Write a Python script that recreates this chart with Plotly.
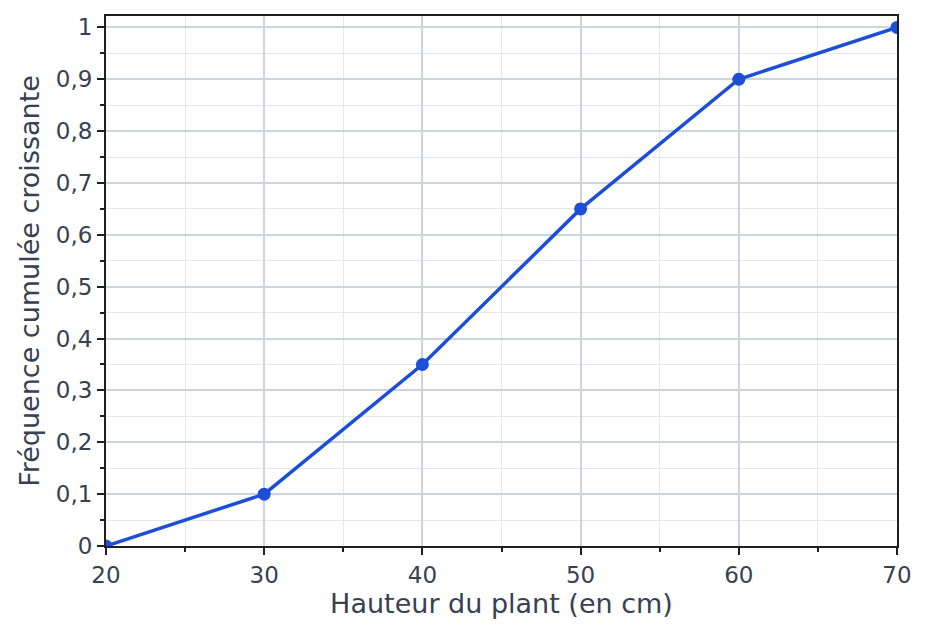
import plotly.graph_objects as go

# Hauteur du plant (en cm) et fréquences cumulées croissantes
hauteurs = [20, 30, 40, 50, 60, 70]
freq_cumulees = [0, 0.1, 0.35, 0.65, 0.9, 1]

x_ticks = [20, 30, 40, 50, 60, 70]
y_ticks = [0, 0.1, 0.2, 0.3, 0.4, 0.5, 0.6, 0.7, 0.8, 0.9, 1]
y_labels = ["0", "0,1", "0,2", "0,3", "0,4", "0,5", "0,6", "0,7", "0,8", "0,9", "1"]

fig = go.Figure()
fig.add_trace(go.Scatter(
    x=hauteurs, y=freq_cumulees, mode="lines+markers",
    line=dict(color="#1d4ed8", width=3.5),
    marker=dict(color="#1d4ed8", size=13),
    showlegend=False,
))

axe = dict(
    showline=True, linecolor="#1f1f1f", linewidth=2, mirror=True,
    ticks="outside", ticklen=7, tickcolor="#1f1f1f", tickwidth=2,
    gridcolor="#cbd5e1", gridwidth=2, zeroline=False,
    tickfont=dict(size=23, color="#374151"),
    minor=dict(ticks="outside", ticklen=4, tickcolor="#1f1f1f", tickwidth=1.5,
               showgrid=True, gridcolor="#e5e7eb", gridwidth=1.2),
)

fig.update_xaxes(
    **axe, range=[20, 70], tickvals=x_ticks,
    title=dict(text="Hauteur du plant (en cm)", font=dict(size=27, color="#374151"), standoff=4),
)
fig.update_xaxes(minor_dtick=5)
fig.update_yaxes(
    **axe, range=[0, 1.022], tickvals=y_ticks, ticktext=y_labels,
    title=dict(text="Fréquence cumulée croissante", font=dict(size=27, color="#374151"), standoff=8),
)
fig.update_yaxes(minor_dtick=0.05)

fig.update_layout(
    width=927, height=636,
    margin=dict(l=98, r=38, t=6, b=98),
    plot_bgcolor="white", paper_bgcolor="white",
    font=dict(family="DejaVu Sans", color="#374151"),
)

fig.write_html("out.html")
